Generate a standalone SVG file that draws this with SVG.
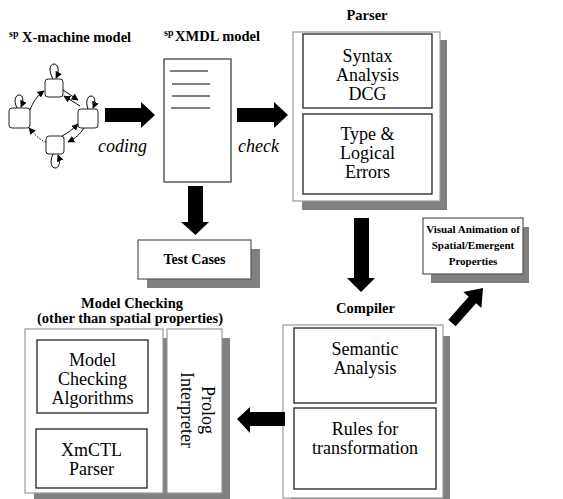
<svg xmlns="http://www.w3.org/2000/svg" width="563" height="499" viewBox="0 0 563 499">
<style>
.t{font-family:"Liberation Serif","Times New Roman",serif;fill:#000}
.b{font-weight:bold}
.r{font-size:18px}
.h{font-size:14.5px;font-weight:bold}
.i{font-size:18px;font-style:italic}
.sup{font-size:10px;font-weight:bold}
.sh{fill:#808080;stroke:none}
.outer{fill:#fff;stroke:#999;stroke-width:1.2}
.inner{fill:#fff;stroke:#222;stroke-width:1.3}
.box{fill:#fff;stroke:#555;stroke-width:1.2}
.big{fill:#000}
.st{fill:#fff;stroke:#222;stroke-width:1}
.e{fill:none;stroke:#000;stroke-width:1}
</style>
<defs>
<marker id="ah" viewBox="0 0 10 10" refX="9" refY="5" markerWidth="7" markerHeight="7" markerUnits="userSpaceOnUse" orient="auto">
<path d="M0,0 L10,5 L0,10 z" fill="#000"/>
</marker>
</defs>
<rect width="563" height="499" fill="#fff"/>

<g id="xmachine">
<text class="t sup" x="9" y="37">sp</text>
<text class="t h" x="22" y="42">X-machine model</text>
<rect class="st" x="45" y="79" width="18" height="18" rx="3"/>
<rect class="st" x="9" y="108" width="21" height="20" rx="3"/>
<rect class="st" x="78" y="109" width="20" height="19" rx="3"/>
<rect class="st" x="46" y="136" width="18" height="18" rx="3"/>
<path class="e" d="M53,79 C48,70 50,64 54,64 C58,64 60,70 56,78" marker-end="url(#ah)"/>
<path class="e" d="M17,108 C13,100 16,95 19,95 C23,95 24,100 21,107" marker-end="url(#ah)"/>
<path class="e" d="M88,109 C85,101 88,96 91,96 C95,96 96,101 93,108" marker-end="url(#ah)"/>
<path class="e" d="M53,154 C49,163 52,168 55,168 C59,168 61,163 58,155" marker-end="url(#ah)"/>
<path class="e" d="M30,110 C33,102 37,96 44,91" marker-end="url(#ah)"/>
<path class="e" d="M63,90 L78,100" marker-end="url(#ah)"/>
<path class="e" d="M80,106 L64,96" marker-end="url(#ah)"/>
<path class="e" d="M84,128 C80,134 76,138 68,142" marker-end="url(#ah)"/>
<path class="e" d="M62,136 C68,133 73,129 78,124" marker-end="url(#ah)"/>
<path class="e" d="M46,142 C40,140 35,135 29,128" stroke-dasharray="1.5,1.5" marker-end="url(#ah)"/>
</g>

<g id="xmdl">
<text class="t sup" x="164" y="36">sp</text>
<text class="t h" x="175" y="41">XMDL model</text>
<rect x="164" y="59" width="67" height="123" fill="#fff" stroke="#333" stroke-width="1.2"/>
<path d="M170,71 H208 M172,84 H210 M172,96 H210 M171,108 H210" stroke="#000" stroke-width="1"/>
</g>

<g id="testcases">
<rect class="sh" x="147" y="249" width="113" height="39"/>
<rect class="box" x="138" y="240" width="113" height="39"/>
<text class="t b" style="font-size:14px" x="194.5" y="264" text-anchor="middle">Test Cases</text>
</g>

<g id="parser">
<text class="t h" x="367" y="20" text-anchor="middle">Parser</text>
<rect class="sh" x="302" y="40" width="145" height="170"/>
<rect class="outer" x="293" y="32" width="147" height="169"/>
<rect class="inner" x="303" y="34" width="129" height="74"/>
<text class="t r" text-anchor="middle"><tspan x="367.5" y="62">Syntax</tspan><tspan x="367.5" y="81">Analysis</tspan><tspan x="367.5" y="100">DCG</tspan></text>
<rect class="inner" x="303" y="114" width="129" height="80"/>
<text class="t r" text-anchor="middle"><tspan x="367.5" y="140">Type &amp;</tspan><tspan x="367.5" y="159">Logical</tspan><tspan x="367.5" y="178">Errors</tspan></text>
</g>

<g id="visual">
<rect class="sh" x="431" y="227" width="98" height="56"/>
<rect class="box" x="423" y="218" width="100" height="56"/>
<text class="t b" style="font-size:11px" text-anchor="middle"><tspan x="473" y="233">Visual Animation of</tspan><tspan x="473" y="249">Spatial/Emergent</tspan><tspan x="473" y="265">Properties</tspan></text>
</g>

<g id="compiler">
<text class="t h" x="365.5" y="313" text-anchor="middle">Compiler</text>
<rect class="sh" x="291" y="336" width="159" height="170"/>
<rect class="outer" x="283" y="325" width="160" height="173"/>
<rect class="inner" x="294" y="328" width="142" height="75"/>
<text class="t r" text-anchor="middle"><tspan x="365" y="355">Semantic</tspan><tspan x="365" y="374">Analysis</tspan></text>
<rect class="inner" x="294" y="408" width="142" height="81"/>
<text class="t r" text-anchor="middle"><tspan x="365" y="435">Rules for</tspan><tspan x="365" y="454">transformation</tspan></text>
</g>

<g id="modelchecking">
<text class="t h" text-anchor="middle"><tspan x="132" y="308">Model Checking</tspan><tspan x="130" y="323">(other than spatial properties)</tspan></text>
<rect class="sh" x="34" y="338" width="196" height="163"/>
<rect class="outer" x="25" y="329" width="138" height="164"/>
<rect class="inner" x="37" y="340" width="111" height="73"/>
<text class="t r" text-anchor="middle"><tspan x="92.5" y="366">Model</tspan><tspan x="92.5" y="385">Checking</tspan><tspan x="92.5" y="404">Algorithms</tspan></text>
<rect class="inner" x="36" y="429" width="111" height="59"/>
<text class="t r" text-anchor="middle"><tspan x="91.5" y="456">XmCTL</tspan><tspan x="91.5" y="475">Parser</tspan></text>
</g>

<g id="prolog">
<rect class="outer" x="167" y="329" width="55" height="164"/>
<text class="t r" text-anchor="middle" transform="translate(194.5,410) rotate(90)"><tspan x="0" y="-7">Prolog</tspan><tspan x="0" y="14">Interpreter</tspan></text>
</g>

<g id="connectors">
<polygon class="big" points="105,108 141,108 141,102 155,115 141,128 141,122 105,122"/>
<polygon class="big" points="237,108 274,108 274,102 288,115 274,128 274,122 237,122"/>
<polygon class="big" points="188,186 203,186 203,222 209,222 195.5,235 181,222 188,222"/>
<polygon class="big" points="354,218 369,218 369,278 375,278 361,292 347,278 354,278"/>
<polygon class="big" points="483,288 481.4,307.9 476.1,303.3 455.7,326.3 448.3,319.7 468.7,296.7 463.4,292.1"/>
<polygon class="big" points="285,412 250,412 250,407 237,419 250,433 250,426 285,426"/>
<text class="t i" x="98" y="152">coding</text>
<text class="t i" x="238" y="152">check</text>
</g>
</svg>
